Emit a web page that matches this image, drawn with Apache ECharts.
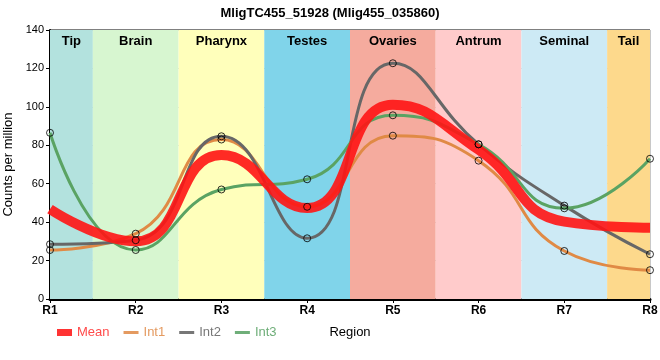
<!DOCTYPE html>
<html>
<head>
<meta charset="utf-8">
<script src="https://cdn.jsdelivr.net/npm/echarts@6/dist/echarts.min.js"></script>
<style>html,body{margin:0;padding:0;background:#fff}#c{width:660px;height:360px}</style>
</head>
<body>
<div id="c"></div>
<script>
var categories = ['R1','R2','R3','R4','R5','R6','R7','R8'];
var meanValues = [46.8, 30.0, 74.9, 47.3, 101.1, 77.7, 40.3, 37.1];
var int1Values = [25.5, 34.0, 83.0, 48.0, 85.0, 72.0, 25.0, 15.0];
var int2Values = [28.5, 30.6, 84.7, 31.6, 122.7, 80.5, 48.6, 23.3];
var int3Values = [86.5, 25.5, 57.0, 62.3, 95.6, 80.5, 47.2, 73.0];
var regionNames = ['Tip','Brain','Pharynx','Testes','Ovaries','Antrum','Seminal','Tail'];
var regionColors = ['#b3e2de','#d7f6d0','#ffffbb','#80d4ea','#f5ab9e','#ffcbcb','#cdeaf5','#fdd98c'];
var yTicks = [0, 20, 40, 60, 80, 100, 120, 140];

function pts(vals){ return vals.map(function(v,i){ return [i+1, v]; }); }

var bands = regionNames.map(function(n,i){
  var a = i === 0 ? 1 : i + 0.5;
  var b = i === regionNames.length-1 ? regionNames.length : i + 1.5;
  return [{xAxis:a, name:n, itemStyle:{color:regionColors[i]}}, {xAxis:b}];
});

var chart = echarts.init(document.getElementById('c'), null, {renderer:'canvas'});
var font = 'Liberation Sans, Arial, sans-serif';
var lineCols = {Mean:'rgba(255,20,20,0.9)', Int1:'#e08a45', Int2:'#676767', Int3:'#5aa363'};

function markerSeries(vals){
  return {type:'scatter', data: pts(vals), symbol:'circle', symbolSize:7, z:6, silent:true,
    itemStyle:{color:'rgba(0,0,0,0)', borderColor:'#000', borderWidth:1}};
}

chart.setOption({
  animation:false,
  textStyle:{fontFamily:font},
  title:{text:'MligTC455_51928 (Mlig455_035860)', left:'center', top:2,
    textStyle:{fontSize:13, fontWeight:'bold', color:'#000', fontFamily:font}},
  grid:{left:50, right:10, top:30, bottom:61, containLabel:false, outerBoundsMode:'none',
    show:true, borderColor:'#000', borderWidth:1, backgroundColor:'transparent'},
  legend:{left:52, top:321, itemWidth:15, itemHeight:7, itemGap:14, symbolKeepAspect:true,
    textStyle:{fontSize:13, fontFamily:font},
    data:[
      {name:'Mean', icon:'rect', itemStyle:{color:'#ff3333'}, textStyle:{color:'#ff4a4a'}},
      {name:'Int1', icon:'path://M0,0H15V3H0Z', itemStyle:{color:'#e49a60'}, textStyle:{color:'#e49a60'}},
      {name:'Int2', icon:'path://M0,0H15V3H0Z', itemStyle:{color:'#777'}, textStyle:{color:'#777'}},
      {name:'Int3', icon:'path://M0,0H15V3H0Z', itemStyle:{color:'#6fae79'}, textStyle:{color:'#6fae79'}}
    ]},
  xAxis:{type:'value', min:1, max:8, interval:1,
    name:'Region', nameLocation:'middle', nameGap:27,
    nameTextStyle:{fontSize:13, color:'#000', fontFamily:font},
    axisLine:{show:true, lineStyle:{color:'#000', width:3}},
    axisTick:{show:true, length:4, lineStyle:{color:'#000'}},
    axisLabel:{fontSize:12, fontWeight:'bold', color:'#000', margin:6,
      formatter:function(v){ return categories[Math.round(v)-1] || ''; }},
    splitLine:{show:true, lineStyle:{color:'#c8c8c8', width:1}}},
  yAxis:{type:'value', min:yTicks[0], max:yTicks[yTicks.length-1], interval:yTicks[1]-yTicks[0],
    name:'Counts per million', nameLocation:'middle', nameGap:27,
    nameTextStyle:{fontSize:13, color:'#000', fontFamily:font},
    axisLine:{show:true, lineStyle:{color:'#000', width:2}},
    axisTick:{show:true, length:4, lineStyle:{color:'#000'}},
    axisLabel:{fontSize:11, color:'#000', margin:6},
    splitLine:{show:true, lineStyle:{color:'#c8c8c8', width:1}}},
  series:[
    {name:'bands', type:'line', data:[], silent:true, z:0,
      markArea:{silent:true, data:bands,
        label:{show:true, position:'insideTop', distance:5, color:'#000', fontSize:13, fontWeight:'bold', fontFamily:font}}},
    {name:'Int1', type:'line', data:pts(int1Values), smooth:0.5, showSymbol:false, z:3,
      itemStyle:{color:lineCols.Int1}, lineStyle:{color:lineCols.Int1, width:3}},
    {name:'Int2', type:'line', data:pts(int2Values), smooth:0.5, showSymbol:false, z:3,
      itemStyle:{color:lineCols.Int2}, lineStyle:{color:lineCols.Int2, width:3}},
    {name:'Int3', type:'line', data:pts(int3Values), smooth:0.5, showSymbol:false, z:3,
      itemStyle:{color:lineCols.Int3}, lineStyle:{color:lineCols.Int3, width:3}},
    {name:'Mean', type:'line', data:pts(meanValues), smooth:0.5, showSymbol:false, z:4,
      itemStyle:{color:lineCols.Mean}, lineStyle:{color:lineCols.Mean, width:10}},
    markerSeries(int1Values), markerSeries(int2Values), markerSeries(int3Values)
  ]
});
</script>
</body>
</html>
